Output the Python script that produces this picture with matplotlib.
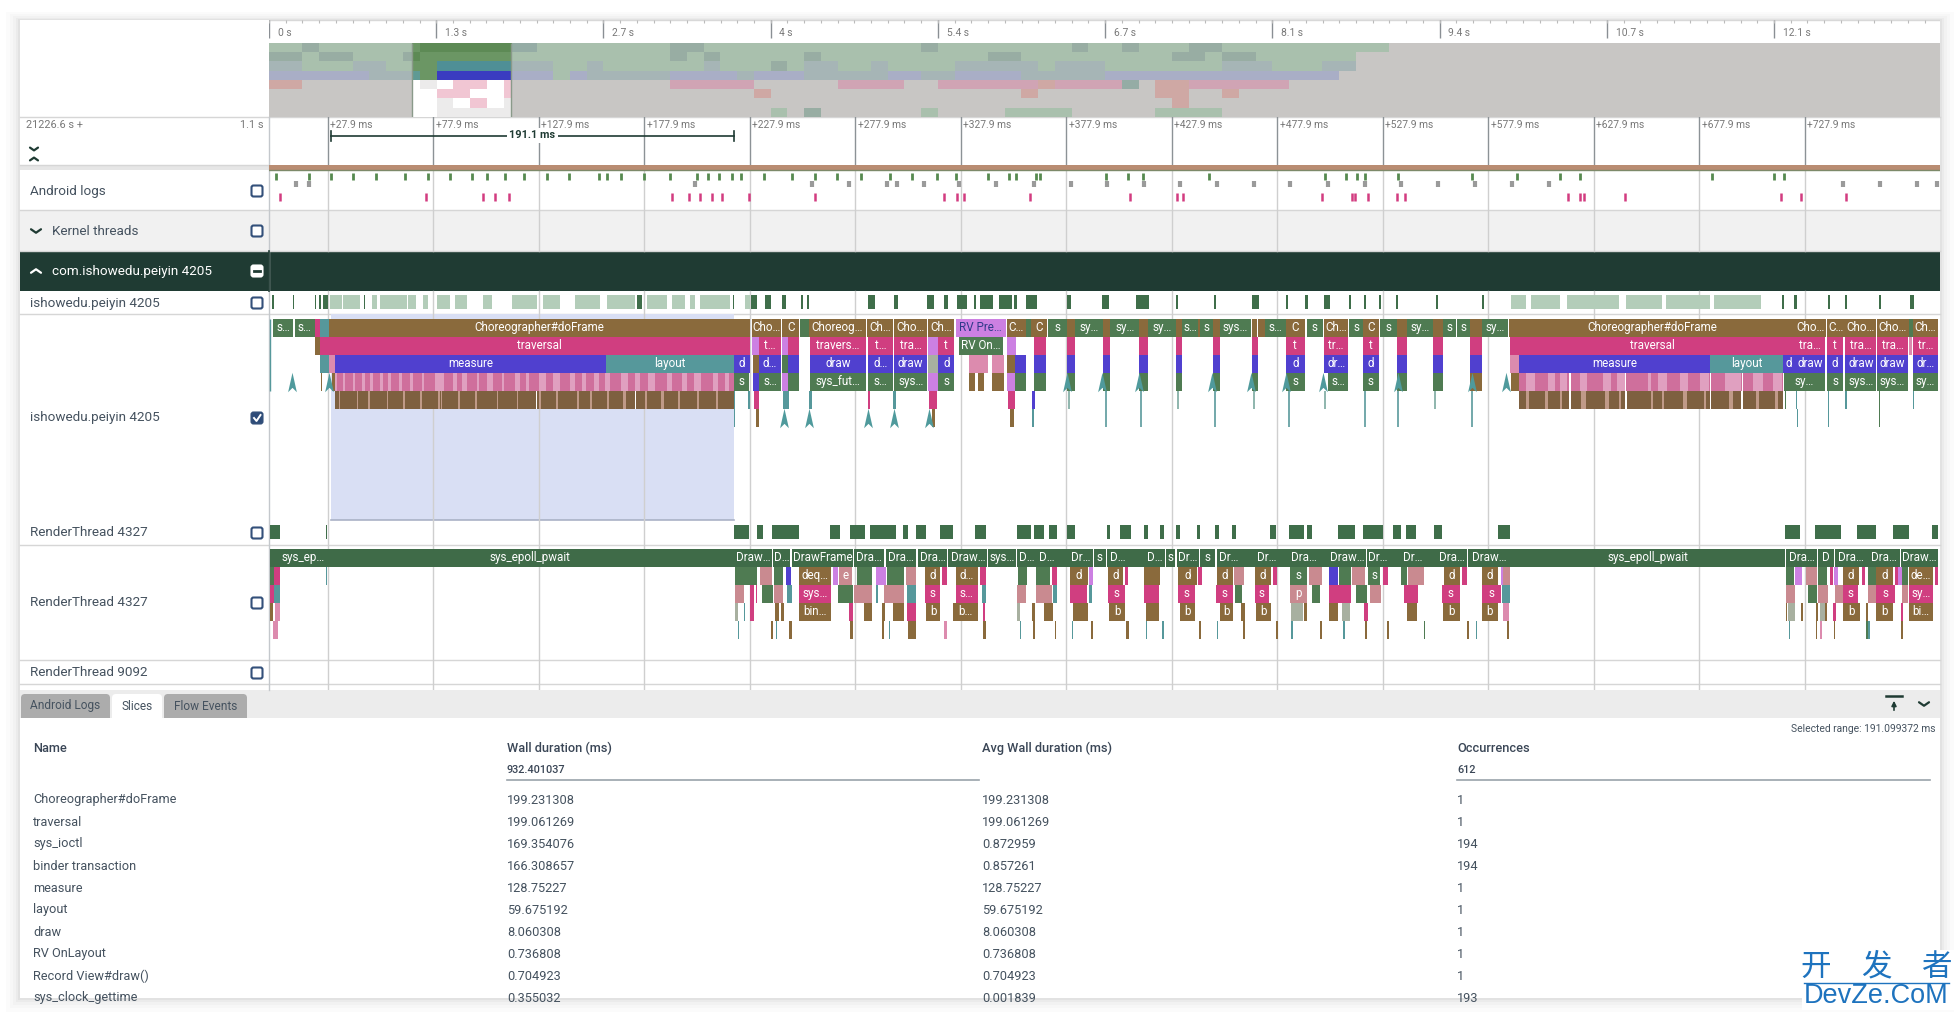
import numpy as np
import matplotlib
matplotlib.use("Agg")
import matplotlib.pyplot as plt
from matplotlib.colors import ListedColormap
from matplotlib.patches import FancyBboxPatch, Rectangle
from matplotlib.path import Path

plt.rcParams['font.family'] = ['Roboto', 'DejaVu Sans']

# ========== data: overview ==========
ov_ticks = [0, 1.34, 2.68, 4.02, 5.36, 6.7, 8.04, 9.38, 10.72, 12.06]
ov_labels = ['0 s', '1.3 s', '2.7 s', '4 s', '5.4 s', '6.7 s', '8.1 s', '9.4 s', '10.7 s', '12.1 s']
ov_window = (1.145, 1.94)

# minimap cells, one string per row
mini_rows = [
    "ggGggggggtttttttggggggggGGgggggggggggggGggggggggGggGgggGGgggggggggg",
    "GGgGGgggGgggggggggggggggGgGgggggGggggggggggGGgggggggggGGgGGgggggg",
    "bbgggbbgggcccccccggbggggggbgggGgbbggbggggbbbbbgbbbgggggggbbbgggbb",
    "vvvvvvbbbgdddddddgvbbbbbvvvvbvvvbbbbbvvbbvvvvbbbbbvvvvvvvvvvvvvv",
    "rr.......x.ww.w.........ppppp.....pppp..pppppprppppt.rrpppppp",
    "..........ww..w..............r...............r.......rr..r",
    "..........x.w.x.......................................r",
    "..........xxxxxx..............g.G......g....gggg.....gggg",
]

# ========== data: time ruler ==========
grid_ms = [27.9, 77.9, 127.9, 177.9, 227.9, 277.9, 327.9, 377.9, 427.9, 477.9,
           527.9, 577.9, 627.9, 677.9, 727.9]
selection_ms = (29.3, 220.4)
selection_label = '191.1 ms'

# ========== data: android logs ==========
log_green = [3.1, 19.1, 29.5, 39.9, 50.5, 64.4, 75.4, 86, 96.4, 103.2, 111.8, 121, 131.7, 142.3,
             156.3, 160.1, 166.9, 177.6, 190, 203, 208.1, 213.1, 219.6, 223.5, 234.5, 248.1, 259,
             269.4, 280.7, 294.3, 304.7, 316.8, 325.7, 340.6, 350.6, 353.9, 363.6, 365.4, 396.5,
             407.2, 414.3, 445.6, 500.7, 510.5, 515.8, 519.6, 535.3, 570.2, 591.3, 611.7, 621.2,
             683.9, 713.2, 718]
log_gray = [12.9, 18.8, 201.9, 257.6, 274.7, 292.8, 297.6, 310.3, 327.2, 344.7, 362.5, 379.9, 397.1,
            414.6, 431.7, 449.5, 466.9, 484.1, 501.9, 519.6, 536.5, 554, 571.7, 589.2, 606.7, 746.1,
            763.5, 781, 790.5]
log_pink = [5.2, 74.2, 101.5, 107.1, 113.6, 191.2, 198.9, 204.5, 209.9, 214.6, 227.6, 259, 320, 326,
            329.2, 360.7, 408, 430.5, 433.2, 499.2, 513.1, 514.9, 521.1, 534.4, 538.3, 615.5, 621.5,
            623.2, 642.5, 716.5, 726, 747.3]

# ========== data: thread state summary rows ==========
state_pale = [(28.9, 34.4), (35.2, 43.1), (48.7, 51), (52.6, 65.2), (66, 69.9), (73.1, 75.5), (79.5, 85.8),
              (88.2, 93.7), (101.3, 105.5), (115, 126.9), (130, 138), (145, 157), (160, 173.5), (179, 188.5),
              (191, 197), (199.5, 201.9), (204.3, 218.5), (225.6, 228), (588.6, 596), (598, 612), (615, 640),
              (643, 660), (662, 683), (685, 707)]
state_dark = [(1.3, 2.4), (11.2, 11.7), (21.8, 22.1), (23.9, 24.6), (25.7, 28.1), (45, 45.7), (174.3, 176.8),
              (220, 220.6), (228.3, 231.1), (235, 238), (243, 245), (252, 253), (255, 256), (284, 287), (296, 298),
              (312, 315), (320, 322), (326, 331), (334, 335), (337, 343), (346, 352), (353, 354.5), (359, 364),
              (378, 380), (395, 398), (411, 417), (430, 431), (448, 449), (466, 469), (482, 483), (491, 492.5),
              (500, 503), (512, 513), (519, 520), (526, 527), (534, 535), (553, 554), (575, 576), (717, 718),
              (723, 724), (739, 740), (747, 748), (763, 764), (778, 779.5)]
rt_state = [(0.5, 5.2), (26.9, 27.5), (220.5, 227.7), (231.1, 234), (238.4, 251.2), (265.7, 270.5), (275.4, 282.6),
            (285, 297.1), (300.3, 302.7), (306.6, 311.6), (318.2, 324.4), (334.6, 339.9), (354.4, 361.2),
            (362.4, 367.2), (369.7, 373.3), (378.1, 381.8), (397, 398.4), (403.5, 408.4), (414.9, 416.8),
            (422.1, 424), (430.1, 432), (439.8, 441.5), (448.2, 450.2), (456.5, 458.4), (474.4, 477.3),
            (483.3, 490.6), (491.8, 494.2), (506.8, 514.7), (518.4, 528), (532.9, 536.5), (538.9, 543.8),
            (552.2, 555.8), (582.4, 588), (718.6, 725.6), (732.7, 745.3), (752.8, 761.9), (769.8, 777.1), (788, 791)]

# ========== data: main thread slices (start ms, end ms, kind, label) ==========
main_l0 = [(1.9, 11.4, 'sys', 's…'), (12.3, 21.7, 'sys', 's…'), (21.7, 24, 'traversal', ''), (24, 28.4, 'layout', ''),
           (28.4, 228.2, 'doframe', 'Choreographer#doFrame'), (228.7, 242.7, 'doframe', 'Cho…'),
           (243.2, 251.4, 'doframe', 'C'), (251.9, 255.8, 'sys', ''), (255.8, 282.9, 'doframe', 'Choreog…'),
           (283.3, 295.9, 'doframe', 'Ch…'), (296.2, 311.9, 'doframe', 'Cho…'), (312.4, 324.9, 'doframe', 'Ch…'),
           (325.4, 349.1, 'purple', 'RV Pre…'), (349.6, 358.8, 'doframe', 'C…'), (358.8, 361.2, 'sys', ''),
           (361.4, 368.9, 'doframe', 'C'), (369.4, 378.1, 'sys', 's'), (378.1, 382, 'doframe', ''),
           (382, 395.5, 'sys', 'sy…'), (395.5, 398.7, 'doframe', ''), (398.7, 412.5, 'sys', 'sy…'),
           (412.5, 416.8, 'doframe', ''), (416.8, 430.1, 'sys', 'sy…'), (430.1, 432.5, 'doframe', ''),
           (432.5, 440.5, 'sys', 's…'), (440.5, 441.5, 'doframe', ''), (441.5, 447.3, 'sys', 's'),
           (447.3, 450.7, 'doframe', ''), (450.7, 465.2, 'sys', 'sys…'), (466.1, 468.1, 'doframe', ''),
           (468.8, 472, 'doframe', ''), (472, 482, 'sys', 's…'), (482.1, 490.8, 'doframe', 'C'),
           (491.8, 499.5, 'sys', 's'), (500, 511.6, 'doframe', 'Ch…'), (512.1, 518.4, 'sys', 's'),
           (518.4, 526.1, 'doframe', 'C'), (526.6, 534.8, 'sys', 's'), (534.8, 539.2, 'doframe', ''),
           (539.2, 551.8, 'sys', 'sy…'), (551.8, 556.6, 'doframe', ''), (556.6, 562.4, 'sys', 's'),
           (562.9, 569.2, 'sys', 's'), (569.2, 575, 'doframe', ''), (575, 587.3, 'sys', 'sy…'),
           (587.8, 723.1, 'doframe', 'Choreographer#doFrame'), (723.5, 738.2, 'doframe', 'Cho…'),
           (738.5, 746.9, 'doframe', 'C…'), (747.2, 761.9, 'doframe', 'Cho…'), (762.2, 777.1, 'doframe', 'Cho…'),
           (777.1, 779, 'sys', ''), (779.3, 791, 'doframe', 'Ch…')]
main_l1 = [(21.7, 24, 'doframe', ''), (24, 28.4, 'traversal', ''), (28.4, 228.2, 'traversal', 'traversal'),
           (228.7, 232.1, 'purple', ''), (232.1, 242.7, 'traversal', 't…'), (243.2, 246.1, 'purple', ''),
           (246.1, 251.4, 'traversal', ''), (256.3, 282.9, 'traversal', 'travers…'), (283.8, 295.9, 'traversal', 't…'),
           (296.4, 311.9, 'traversal', 'tra…'), (312.4, 317.2, 'purple', ''), (317.2, 324.9, 'traversal', 't'),
           (326.9, 348.1, 'sys', 'RV On…'), (349.6, 353.9, 'purple', ''), (362.7, 368.5, 'traversal', ''),
           (378.1, 382, 'traversal', ''), (395.5, 398.7, 'traversal', ''), (412.5, 416.8, 'traversal', ''),
           (430.1, 432.5, 'traversal', ''), (447.3, 450.7, 'traversal', ''), (466.1, 468.6, 'traversal', ''),
           (482.1, 490.8, 'traversal', 't'), (500, 511.6, 'traversal', 'tr…'), (518.4, 526.1, 'traversal', 't'),
           (534.8, 539.2, 'traversal', ''), (551.8, 556.6, 'traversal', ''), (569.2, 575, 'traversal', ''),
           (588.4, 723.1, 'traversal', 'traversal'), (723.5, 737.6, 'traversal', 'tra…'), (738.5, 746.1, 'traversal', 't'),
           (747.2, 761.9, 'traversal', 'tra…'), (762.2, 776.8, 'traversal', 'tra…'), (777.1, 778.7, 'pale', ''),
           (779, 791, 'traversal', 'tr…')]
main_l2 = [(24, 28.4, 'layout', ''), (28.4, 31.3, 'pale', ''), (31.3, 159.7, 'draw', 'measure'),
           (159.7, 220.4, 'layout', 'layout'), (220.4, 228.2, 'draw', 'd'), (229.6, 232.1, 'doframe', ''),
           (232.1, 242.7, 'draw', 'd…'), (243.2, 246.1, 'sys', ''), (246.1, 251.4, 'draw', ''), (256.3, 282.9, 'draw', 'draw'),
           (283.8, 295.9, 'draw', 'd…'), (296.4, 311.9, 'draw', 'draw'), (312.4, 317.2, 'gray', ''), (317.2, 324.9, 'draw', 'd'),
           (331.7, 340.9, 'pale', ''), (342.8, 348.6, 'pale', ''), (349.6, 353.5, 'doframe', ''), (353.5, 358.8, 'draw', ''),
           (362.7, 368.5, 'draw', ''), (378.1, 382, 'draw', ''), (395.5, 398.7, 'draw', ''), (412.5, 416.8, 'draw', ''),
           (430.1, 432.5, 'draw', ''), (447.3, 450.7, 'draw', ''), (466.1, 468.6, 'draw', ''), (482.1, 490.8, 'draw', 'd'),
           (500, 511.6, 'draw', 'dr…'), (518.4, 526.1, 'draw', 'd'), (534.8, 539.2, 'draw', ''), (551.8, 556.6, 'draw', ''),
           (569.2, 575, 'draw', ''), (588.4, 592.5, 'pale', ''), (592.5, 683.2, 'draw', 'measure'),
           (683.2, 717.4, 'layout', 'layout'), (717.4, 723.1, 'draw', 'd'), (723.5, 737.6, 'draw', 'draw'),
           (738.5, 746.1, 'draw', 'd'), (747.2, 761.9, 'draw', 'draw'), (762.2, 776.8, 'draw', 'draw'), (779, 791, 'draw', 'dr…')]
main_l3 = [(24.5, 25.3, 'doframe', ''), (30, 31.3, 'doframe', ''), (31.3, 220.4, 'ioctl', ''), (220.4, 227.6, 'sys', 's'),
           (229.6, 232.1, 'draw', ''), (232.1, 242.7, 'sys', 's…'), (243.2, 246.1, 'purple', ''), (246.1, 251.4, 'sys', ''),
           (256.3, 282.9, 'sys', 'sys_fut…'), (283.8, 295.9, 'sys', 's…'), (296.4, 311.9, 'sys', 'sys…'),
           (312.4, 317.2, 'purple', ''), (317.2, 324.9, 'sys', 's'), (331.7, 334.6, 'doframe', ''), (336, 338.9, 'doframe', ''),
           (342.8, 348.6, 'doframe', ''), (349.6, 353.5, 'purple', ''), (353.5, 358.8, 'sys', ''), (362.7, 368.5, 'sys', ''),
           (378.1, 382, 'sys', ''), (395.5, 398.7, 'sys', ''), (412.5, 416.8, 'sys', ''), (430.1, 432.5, 'sys', ''),
           (447.3, 450.7, 'sys', ''), (466.1, 468.6, 'sys', ''), (482.1, 490.8, 'sys', 's'), (502, 511.6, 'sys', 's…'),
           (518.4, 526.1, 'sys', 's'), (534.8, 539.2, 'sys', ''), (551.8, 556.6, 'sys', ''), (569.2, 575, 'doframe', ''),
           (588.8, 592.5, 'doframe', ''), (592.5, 717.4, 'ioctl', ''), (717.9, 737.6, 'sys', 'sy…'), (738.5, 746.1, 'sys', 's'),
           (747.2, 761.9, 'sys', 'sys…'), (762.2, 776.8, 'sys', 'sys…'), (779, 791, 'sys', 'sy…')]
main_l4 = [(31.3, 220.4, 'binder', ''), (220.5, 221, 'layout', ''), (226.8, 228.2, 'layout', ''), (230.1, 232.1, 'traversal', ''),
           (243.7, 246.6, 'layout', ''), (256, 257.2, 'layout', ''), (283.8, 285, 'traversal', ''), (295.9, 297.1, 'layout', ''),
           (312.8, 316.5, 'traversal', ''), (350.1, 353.5, 'traversal', ''), (361.7, 363.1, 'draw', ''),
           (592.5, 616.1, 'binder', ''), (617, 642.6, 'binder', ''), (643.6, 682.8, 'binder', ''), (683.4, 697.6, 'binder', ''),
           (698.7, 717.4, 'binder', ''), (718.3, 718.8, 'sys', ''), (723.7, 724.3, 'layout', ''), (739, 739.5, 'layout', ''),
           (747.2, 747.7, 'layout', ''), (763, 763.5, 'sys', ''), (779.3, 779.9, 'layout', '')]
main_l5 = [(230.6, 232.1, 'doframe', ''), (314.3, 315.7, 'doframe', ''), (351, 353, 'doframe', ''), (361.7, 362.4, 'layout', ''),
           (220.5, 221, 'layout', ''), (724, 724.5, 'layout', ''), (739, 739.5, 'layout', ''), (763, 763.5, 'sys', '')]

# hand read stripes inside the sys_ioctl / binder blocks
ioctl_pale = [(31.3, 32.1), (35, 36.1), (40, 40.8), (44, 45.5), (47.9, 49.5), (52.6, 54.2), (56.6, 57.7), (61.8, 62.9),
              (66.9, 68.1), (72.4, 73.5), (78.7, 83), (87.4, 89), (91.4, 93.7), (98.5, 99.7), (103.2, 106.4),
              (110.3, 111.4), (116.6, 119), (121.8, 123), (127.8, 131.2), (134.7, 138.1), (142.7, 145), (148.5, 150.1),
              (154.2, 156.5), (159.3, 161.6), (166.9, 170.3), (173.7, 176), (179.5, 182.9), (188.7, 191), (195.6, 197.9),
              (201.3, 204.8), (210.5, 212.8), (216.2, 218.1), (596, 600), (606.3, 609.5), (611.8, 615.3), (621.3, 624.5),
              (632.4, 636.3), (638.7, 642.6), (653.7, 654.8), (658.4, 662.4), (668.7, 672.7), (678.2, 682.6), (690, 697.9),
              (703.5, 708.2), (713, 716.9)]
ioctl_gap = [(616.2, 616.9), (642.9, 643.4), (683, 683.4), (698.2, 698.7)]
binder_pale = [(33, 33.6), (41.6, 42.3), (47.1, 47.8), (55.8, 56.5), (63.7, 64.4), (71.6, 72.3), (80.3, 80.9), (81.4, 82),
               (89.8, 90.5), (97.7, 98.4), (107.9, 108.6), (117.4, 118.1), (128, 129), (136, 137), (146, 147), (152, 153),
               (160, 161), (168, 169), (178, 179), (186, 187), (194, 195), (203, 204), (212, 213), (596, 597), (605, 606),
               (612, 613), (622, 624), (633, 635), (640, 641), (655, 656), (660, 661), (670, 672), (680, 681), (692, 694),
               (705, 706), (714, 715)]
binder_gap = [(173.6, 174.1), (126.4, 126.9)]

# flow arrows
arrows_l3 = [11.1, 28.3, 378.1, 395, 412.5, 447, 465.2, 482.1, 499.5, 535.3, 570.4, 586.5]
arrows_l5 = [244.3, 255.8, 284, 296.2, 312.7]
stems_long = [396.7, 413.2, 448.3, 483.3, 519.6, 535.3, 570.4]
stems_short = [379.3, 430.6, 466.9, 500.7, 552.7]

# ========== data: render thread slices ==========
rt_l0 = [(0.5, 4.7, 'rt', ''), (4.7, 27.5, 'rt', 'sys_ep…'), (27.5, 220, 'rt', 'sys_epoll_pwait'), (220, 228.4, 'rt', ''),
         (221, 238.4, 'rt', 'Draw…'), (238.8, 247, 'rt', 'D…'), (248, 277, 'rt', 'DrawFrame'), (277.5, 291.5, 'rt', 'Dra…'),
         (292.5, 306.5, 'rt', 'Dra…'), (307.5, 321.5, 'rt', 'Dra…'), (322, 340.4, 'rt', 'Draw…'), (340.9, 354, 'rt', 'sys…'),
         (354.4, 363.6, 'rt', 'D…'), (363.6, 373.3, 'rt', 'D…'), (373.3, 379, 'rt', ''), (379.1, 390.7, 'rt', 'Dr…'),
         (391.2, 396.5, 'rt', 's'), (397, 407.1, 'rt', 'D…'), (407.1, 414.9, 'rt', ''), (414.9, 424.5, 'rt', 'D…'),
         (425, 429.4, 'rt', 's'), (430.3, 441, 'rt', 'Dr…'), (441.5, 448.2, 'rt', 's'), (449.2, 460.3, 'rt', 'Dr…'),
         (460.3, 467.1, 'rt', ''), (467.1, 478.2, 'rt', 'Dr…'), (478.2, 484, 'rt', ''), (484, 496.6, 'rt', 'Dra…'),
         (496.6, 502, 'rt', ''), (502, 519.8, 'rt', 'Draw…'), (520.3, 531, 'rt', 'Dr…'), (531, 535.8, 'rt', ''),
         (535.8, 548, 'rt', 'Dr…'), (548, 553.2, 'rt', ''), (553.2, 567.7, 'rt', 'Dra…'), (568.1, 588.2, 'rt', 'Draw…'),
         (588.4, 718.6, 'rt', 'sys_epoll_pwait'), (718.9, 733.8, 'rt', 'Dra…'), (734.1, 741.7, 'rt', 'D'),
         (742, 757.2, 'rt', 'Dra…'), (757.5, 773, 'rt', 'Dra…'), (773.3, 791, 'rt', 'Draw…')]
rt_l1 = [(0.5, 2.4, 'sys', ''), (2.4, 5.2, 'traversal', ''), (26.9, 27.4, 'layout', ''), (221, 231.1, 'sys', ''), (232.6, 238.4, 'pale2', ''),
         (239.3, 243.7, 'sys', ''), (245.1, 247.5, 'draw', ''), (251.4, 266.4, 'doframe', 'deq…'), (267.4, 269.8, 'purple', ''),
         (270.3, 276.1, 'pale2', 'e'), (278.5, 285.8, 'sys', ''), (287.7, 292.3, 'purple', ''), (293, 301.2, 'sys', ''),
         (302, 306.8, 'pale2', ''), (310.9, 318.2, 'doframe', 'd'), (319, 321.5, 'traversal', ''), (325.4, 336, 'doframe', 'd…'),
         (337, 340, 'traversal', ''), (354.9, 359.5, 'sys', ''), (363.6, 370.4, 'sys', ''), (370.9, 373.3, 'traversal', ''),
         (379.6, 388.3, 'doframe', 'd'), (388.8, 390.7, 'purple', ''), (397.5, 404.7, 'doframe', 'd'), (405.7, 407.1, 'traversal', ''),
         (410.7, 411, 'layout', ''), (414.9, 422.1, 'doframe', ''), (430.8, 439.8, 'doframe', 'd'), (440.5, 442.2, 'traversal', ''),
         (449.2, 456.9, 'doframe', 'd'), (457.3, 462.3, 'pale2', ''), (467.1, 474.8, 'doframe', 'd'), (476, 477.7, 'traversal', ''),
         (484, 491.8, 'sys', 's'), (493, 499, 'pale2', ''), (502.4, 506.8, 'draw', ''), (507.3, 513, 'sys', ''), (513.5, 519.6, 'pale2', ''),
         (520.8, 526.8, 'sys', 's'), (528, 530.4, 'traversal', ''), (536.5, 539.6, 'sys', ''), (540, 547.4, 'pale2', ''),
         (557, 564.3, 'doframe', 'd'), (565.5, 568, 'traversal', ''), (574.7, 582.6, 'doframe', 'd'), (583.7, 585, 'purple', ''),
         (585, 588, 'pale2', ''), (718.9, 722.7, 'sys', ''), (723.2, 726.4, 'purple', ''), (728.4, 733.8, 'pale2', ''),
         (734.4, 738.5, 'sys', ''), (739.7, 741.4, 'traversal', ''), (741.9, 743.5, 'purple', ''), (745.8, 753.7, 'doframe', 'd'),
         (755, 756.3, 'traversal', ''), (758, 761.9, 'sys', ''), (761.9, 769.8, 'doframe', 'd'), (770.5, 772, 'traversal', ''),
         (772.2, 773.9, 'purple', ''), (774.2, 777, 'sys', ''), (777.2, 788.8, 'doframe', 'de…'), (789.5, 791, 'traversal', '')]
rt_l2 = [(0.5, 2.4, 'traversal', ''), (2.6, 5.2, 'layout', ''), (221, 225.3, 'pale2', ''), (228.2, 229.7, 'traversal', ''), (230.6, 231.1, 'traversal', ''),
         (233.5, 238.9, 'sys', ''), (239.3, 243.7, 'pale2', ''), (245.6, 248, 'layout', ''), (251.4, 266.4, 'traversal', 'sys…'),
         (269.8, 276.6, 'sys', ''), (277.5, 285.8, 'pale2', ''), (287.5, 288.7, 'layout', ''), (291.6, 300.8, 'pale2', ''),
         (302.2, 306.8, 'layout', ''), (311, 318.2, 'traversal', 's'), (325.4, 336, 'traversal', 's…'), (338, 340, 'layout', ''),
         (354.4, 358.8, 'pale2', ''), (363.6, 370.9, 'pale2', ''), (371.4, 373.3, 'layout', ''), (379.6, 387.8, 'traversal', ''),
         (388.8, 390.2, 'layout', ''), (397.5, 405.9, 'traversal', 's'), (414.9, 421.6, 'traversal', ''), (430.8, 439, 'traversal', 's'),
         (448.7, 456.9, 'traversal', 's'), (457.9, 461.3, 'sys', ''), (467.1, 473.8, 'traversal', 's'), (484, 491.8, 'pale2', 'p'),
         (494.2, 498.2, 'sys', ''), (502.4, 513, 'traversal', ''), (515, 520.3, 'sys', ''), (521.8, 527, 'pale2', ''),
         (537.8, 544.6, 'traversal', ''), (556.1, 564.3, 'traversal', 's'), (575, 583.7, 'traversal', 's'),
         (584.5, 588, 'layout', ''), (718.9, 723.2, 'pale2', ''), (729.5, 733.5, 'sys', ''), (734, 739, 'pale2', ''), (742.2, 746.1, 'pale2', ''),
         (746.1, 753.3, 'traversal', 's'), (758, 761.9, 'pale2', ''), (761.9, 770.6, 'traversal', 's'), (773.8, 776.9, 'pale2', ''),
         (777.2, 788.8, 'traversal', 'sy…')]
rt_l3 = [(0.5, 1.8, 'doframe', ''), (3, 5.2, 'pale', ''), (221, 222.4, 'gray', ''), (225, 225.4, 'layout', ''), (228.2, 229.7, 'traversal', ''),
         (239.8, 241.7, 'doframe', ''), (242.7, 244.2, 'doframe', ''), (251.4, 266.4, 'doframe', 'bin…'), (275.1, 277, 'traversal', ''),
         (281.9, 285.8, 'doframe', ''), (290.6, 292, 'doframe', ''), (295.9, 300.8, 'doframe', ''), (302.2, 306.8, 'traversal', ''),
         (311.4, 318.2, 'doframe', 'b'), (324.4, 336, 'doframe', 'b…'), (338.5, 339.4, 'traversal', ''), (354.4, 355.9, 'gray', ''),
         (361.7, 363.1, 'doframe', ''), (367.5, 371.4, 'doframe', ''), (381, 388.3, 'doframe', ''), (398, 405.9, 'doframe', 'b'),
         (415.9, 421.6, 'doframe', ''), (431.8, 439, 'doframe', 'b'), (450.7, 456.9, 'doframe', 'b'), (460.9, 462.8, 'doframe', ''),
         (467.6, 474.8, 'doframe', 'b'), (484.5, 489.9, 'gray', ''), (490.6, 492, 'doframe', ''), (502.4, 506.8, 'doframe', ''),
         (508.8, 512.4, 'gray', ''), (519, 520.8, 'traversal', ''), (539.6, 544, 'doframe', ''), (556.6, 564.3, 'doframe', 'b'),
         (574.7, 582.6, 'doframe', 'b'), (585, 587.5, 'pale', ''), (718.9, 719.5, 'doframe', ''), (720, 723.2, 'gray', ''), (725.9, 726.9, 'doframe', ''),
         (733, 734.1, 'doframe', ''), (735, 737.4, 'gray', ''), (737.6, 738.5, 'doframe', ''), (741.4, 742.7, 'traversal', ''),
         (746.1, 753.9, 'doframe', 'b'), (756.9, 758, 'doframe', ''), (761.9, 769.8, 'doframe', 'b'), (773.3, 774.3, 'traversal', ''),
         (777.2, 788.8, 'doframe', 'bi…')]
rt_l4 = [(1.8, 4.2, 'pale', ''), (222.3, 222.8, 'layout', ''), (237.9, 239, 'doframe', ''), (240.2, 240.6, 'layout', ''), (246.6, 247.8, 'doframe', ''),
         (275.4, 276.6, 'doframe', ''), (290.6, 291.5, 'doframe', ''), (294, 294.4, 'layout', ''), (302.7, 306.5, 'doframe', ''), (320, 321.5, 'pale', ''),
         (338.6, 339.8, 'doframe', ''), (355.9, 356.4, 'layout', ''), (362.2, 363.2, 'doframe', ''), (372.5, 373.2, 'doframe', ''),
         (380.5, 381, 'layout', ''), (389.7, 390.5, 'doframe', ''), (406.4, 407.4, 'doframe', ''), (415.7, 416.2, 'layout', ''),
         (423.4, 424, 'layout', ''), (440.9, 441.9, 'doframe', ''), (449.4, 449.9, 'layout', ''), (461.8, 462.8, 'doframe', ''),
         (477.2, 478, 'doframe', ''), (484.6, 485.2, 'layout', ''), (498, 499, 'doframe', ''), (509.2, 510, 'layout', ''),
         (519.6, 520.4, 'doframe', ''), (530, 530.8, 'doframe', ''), (547.4, 548, 'sys', ''), (568, 568.9, 'doframe', ''),
         (572, 572.6, 'layout', ''), (587, 587.7, 'doframe', ''), (720.5, 721, 'layout', ''), (733.2, 733.8, 'doframe', ''), (735, 736.2, 'pale', ''),
         (741.6, 742.4, 'doframe', ''), (756.9, 757.9, 'sys', ''), (758, 759, 'layout', ''), (773.3, 774.3, 'doframe', '')]

# ========== data: bottom table ==========
table_head = ['Name', 'Wall duration (ms)', 'Avg Wall duration (ms)', 'Occurrences']
table_total = ['', '932.401037', '', '612']
names = ['Choreographer#doFrame', 'traversal', 'sys_ioctl', 'binder transaction', 'measure', 'layout', 'draw',
         'RV OnLayout', 'Record View#draw()', 'sys_clock_gettime']
wall = ['199.231308', '199.061269', '169.354076', '166.308657', '128.75227', '59.675192', '8.060308',
        '0.736808', '0.704923', '0.355032']
avg = ['199.231308', '199.061269', '0.872959', '0.857261', '128.75227', '59.675192', '8.060308',
       '0.736808', '0.704923', '0.001839']
occur = ['1', '1', '194', '194', '1', '1', '1', '1', '1', '193']

# ========== colours ==========
colors = {'doframe': '#8a6a3c', 'traversal': '#d03e80', 'draw': '#5040cf', 'layout': '#56989b', 'sys': '#4f7b52',
          'rt': '#3f6b48', 'purple': '#cc80e2', 'pale': '#dc8bae', 'pale2': '#c98a90', 'gray': '#a8b0a0',
          'ioctl': '#cf6f9c', 'binder': '#7e6040'}
text_dark = {'purple'}
TEXT = '#45525f'
DARK = '#1f3b33'

# ========== figure, one axes in pixels for the page and others on time scales ==========
W, H = 1958, 1018
fig = plt.figure(figsize=(W / 100, H / 100), dpi=100)
page = fig.add_axes([0, 0, 1, 1])
page.set_xlim(0, W)
page.set_ylim(H, 0)
page.axis('off')


def px_axes(x0, y0, x1, y1):
    a = fig.add_axes([x0 / W, 1 - y1 / H, (x1 - x0) / W, (y1 - y0) / H])
    a.axis('off')
    a.patch.set_alpha(0)
    return a


# shadow round the panel
for grow, tone in zip([14, 10, 7, 4, 2], ['#fbfbfb', '#f7f7f7', '#f2f2f2', '#ebebeb', '#e2e2e2']):
    page.add_patch(Rectangle((20 - grow, 20 - grow * 0.6), 1920 + 2 * grow, 978 + grow * 1.6, color=tone, lw=0))
page.add_patch(Rectangle((20, 20), 1920, 978, color='white', lw=0))

# rows
page.add_patch(Rectangle((20, 210), 1920, 41, color='#f1f1f1', lw=0))
page.add_patch(Rectangle((20, 251), 1920, 40, color=DARK, lw=0))
page.add_patch(Rectangle((20, 690), 1920, 28, color='#ececec', lw=0))
for y in [117, 210, 251, 314, 545, 660, 684]:
    page.plot([20, 1940], [y, y], color='#d6d6d6', lw=1, zorder=1)
page.plot([20, 269], [165, 165], color='#d6d6d6', lw=1)
page.add_patch(Rectangle((20, 165), 1920, 5, color='#e6e6e6', lw=0))
page.plot([269, 269], [117, 690], color='#c4c8cc', lw=1, zorder=1)
page.plot([269, 269], [251, 291], color=DARK, lw=1.2, zorder=2)

# row labels and check boxes
row_labels = [('Android logs', 30, 191), ('Kernel threads', 52, 231), ('ishowedu.peiyin 4205', 30, 303),
              ('ishowedu.peiyin 4205', 30, 418), ('RenderThread 4327', 30, 533), ('RenderThread 4327', 30, 603),
              ('RenderThread 9092', 30, 673)]
for label, x, y in row_labels:
    page.text(x, y, label, fontsize=9.7, color=TEXT, va='center', ha='left')
page.text(52, 271, 'com.ishowedu.peiyin 4205', fontsize=9.7, color='white', va='center', ha='left')

for y, state in [(191, 0), (231, 0), (271, 2), (303, 0), (418, 1), (533, 0), (603, 0), (673, 0)]:
    face = {0: 'white', 1: '#2c4a78', 2: 'white'}[state]
    page.add_patch(FancyBboxPatch((251.5, y - 5.5), 11, 11, boxstyle='round,pad=0,rounding_size=2',
                                  fc=face, ec='#33507a' if state < 2 else 'white', lw=1.5, zorder=3))
    if state == 1:
        page.plot([254, 256.5, 260.5], [y, y + 3, y - 3], color='white', lw=1.4, zorder=4)
    if state == 2:
        page.plot([254, 260], [y, y], color=DARK, lw=2, zorder=4)


def chevron(x, y, up, col=DARK, size=5):
    d = -size * 0.7 if up else size * 0.7
    page.plot([x - size, x, x + size], [y - d / 2, y + d / 2, y - d / 2], color=col, lw=1.6, zorder=4,
              solid_capstyle='round')


chevron(36, 231, False)
chevron(36, 271, True, 'white')
chevron(34, 149, False, size=4)
chevron(34, 159, True, size=4)
chevron(1924, 704, False, size=5)
page.plot([1886, 1902], [696, 696], color=DARK, lw=1.8)
page.annotate('', xy=(1894, 698), xytext=(1894, 713),
              arrowprops=dict(arrowstyle='-|>', color=DARK, lw=1.2, mutation_scale=7))
page.text(26, 125, '21226.6 s +', fontsize=7.8, color='#777777', va='center')
page.text(264, 125, '1.1 s', fontsize=7.8, color='#777777', va='center', ha='right')

# ========== overview ==========
ov = px_axes(269, 20, 1940, 117)
ov.set_xlim(0, 13.39)
ov.set_ylim(117, 20)
codes = '.gGbvcdwxrptG'
dim = ['#c8c6c4', '#a9c0ad', '#98ada3', '#a6b5b6', '#a9aec6', '#a6b5b6', '#a9aec6', '#c8c6c4', '#c8c6c4', '#cfa8a4',
       '#d0a4b4', '#95aca5', '#98ada3']
bright = ['#ffffff', '#6b9664', '#5d8a55', '#5f9a94', '#4648bd', '#4f8f96', '#3a3cc0', '#f1c6d3', '#ecebeb', '#f1c6d3',
          '#f1c6d3', '#5d8a55', '#5d8a55']
mini = np.zeros((8, 100), dtype=int)
for r, line in enumerate(mini_rows):
    for c, ch in enumerate(line):
        mini[r, c] = codes.index(ch)
# window rows are filled in full colour, the rest of the strip is dimmed
ov.imshow(mini, cmap=ListedColormap(dim), vmin=0, vmax=len(dim) - 1, extent=(0, 13.4, 117, 43), aspect='auto',
          interpolation='nearest', zorder=1)
im = ov.imshow(mini, cmap=ListedColormap(bright), vmin=0, vmax=len(bright) - 1, extent=(0, 13.4, 117, 43),
               aspect='auto', interpolation='nearest', zorder=2)
im.set_clip_path(Rectangle((ov_window[0], 43), ov_window[1] - ov_window[0], 74, transform=ov.transData))
ov.set_xlim(0, 13.39)
ov.set_ylim(117, 20)
ov.vlines(ov_window, 43, 117, color='#8a9a8a', lw=1, zorder=3)
ov.vlines(ov_ticks, 20, 38, color='#8a8f94', lw=1, zorder=3)
ov.vlines(np.arange(0, 13.39, 0.134), 20, 23, color='#bbbbbb', lw=0.8, zorder=3)
ov.plot([0, 13.39], [20, 20], color='#d8d8d8', lw=1, zorder=2)
for t, lab in zip(ov_ticks, ov_labels):
    ov.text(t + 0.07, 33, lab, fontsize=7.4, color='#777777', va='center', ha='left')

# ========== time axes ==========
ax = px_axes(269, 117, 1940, 690)
ax.set_xlim(0, 792)
ax.set_ylim(690, 117)

# selection shade
ax.add_patch(Rectangle((selection_ms[0], 314), selection_ms[1] - selection_ms[0], 206, color='#d9dff4', lw=0, zorder=1))
ax.plot(selection_ms, [520, 520], color='#aab2c6', lw=1.2, zorder=2)

# grid, skipping the dark process header
for g in grid_ms:
    ax.plot([g, g], [117, 165], color='#8c9296', lw=1, zorder=2)
    ax.plot([g, g], [170, 251], color='#cfcfcf', lw=1, zorder=2)
    ax.plot([g, g], [291, 690], color='#cfcfcf', lw=1, zorder=2)
    ax.text(g + 1.2, 125, f'+{g} ms', fontsize=7.4, color='#777777', va='center', ha='left', zorder=5)

# measure span
ax.plot(selection_ms, [135.5, 135.5], color=DARK, lw=1.2, zorder=4)
for s in selection_ms:
    ax.plot([s, s], [130.5, 140.5], color=DARK, lw=1.2, zorder=4)
ax.text(sum(selection_ms) / 2, 135.5, selection_label, fontsize=7.8, color=DARK, weight='bold', ha='center', va='center',
        zorder=5, bbox=dict(fc='white', ec='none', pad=1.5))

# brown strip under the ruler
ax.add_patch(Rectangle((0, 165), 792, 5, color='#b98c72', lw=0, zorder=3))
ax.plot([0, 792], [170, 170], color='#7d8a6a', lw=1, zorder=3)

# android logs
ax.vlines(log_green, 173, 180, color='#568a4f', lw=2, zorder=4)
ax.vlines(log_gray, 181, 187, color='#9a9a9a', lw=3, zorder=4)
ax.vlines(log_pink, 193, 201, color='#d23c80', lw=1.8, zorder=4)


def draw_state(spans, top, bottom, col, alpha=1.0):
    for a, b in spans:
        ax.add_patch(Rectangle((a, top), b - a, bottom - top, color=col, alpha=alpha, lw=0, zorder=3))


draw_state(state_pale, 295, 309, '#b3cdb9')
draw_state(state_dark, 295, 309, '#3f6e4a')
draw_state(rt_state, 525, 539, '#3f6e4a')


def draw_level(slices, top, h=18.0):
    for a, b, kind, label in slices:
        ax.add_patch(Rectangle((a, top), b - a, h, color=colors[kind], lw=0, zorder=4))
        if label:
            tc = '#303a8a' if kind in text_dark else 'white'
            ax.text((a + b) / 2, top + h / 2 - 0.3, label, fontsize=8.4, color=tc, ha='center', va='center',
                    zorder=6, clip_on=True)


for lvl, level in enumerate([main_l0, main_l1, main_l2, main_l3, main_l4, main_l5]):
    draw_level(level, 319 + lvl * 18)
for lvl, level in enumerate([rt_l0, rt_l1, rt_l2, rt_l3, rt_l4]):
    draw_level(level, 549 + lvl * 18)

# stripes in the big blocks
for a, b in ioctl_pale:
    ax.add_patch(Rectangle((a, 373), b - a, 18, color='#e0a0c0', lw=0, zorder=5))
for a, b in ioctl_gap:
    ax.add_patch(Rectangle((a, 373), b - a, 18, color='white', lw=0, zorder=5))
for a, b in binder_pale:
    ax.add_patch(Rectangle((a, 391), b - a, 18, color='#c09a88', lw=0, zorder=5))
for a, b in binder_gap:
    ax.add_patch(Rectangle((a, 391), b - a, 18, color='white', lw=0, zorder=5))

# flow arrows and their stems
arrow = Path([(0, 1), (0.45, -1), (0, -0.55), (-0.45, -1), (0, 1)],
             [Path.MOVETO, Path.LINETO, Path.LINETO, Path.LINETO, Path.CLOSEPOLY])
ax.vlines(stems_long, 391, 427, color='#5a9a9c', lw=1.2, zorder=4)
ax.vlines(stems_short, 391, 409, color='#7ca9a0', lw=1.2, zorder=4)
ax.plot(arrows_l3, [382] * len(arrows_l3), ls='none', marker=arrow, ms=14, color='#4f9a9c', mec='none', zorder=5)
ax.plot(arrows_l5, [418] * len(arrows_l5), ls='none', marker=arrow, ms=14, color='#4f9a9c', mec='none', zorder=5)
ax.vlines([0.6], 319, 391, color='#56989b', lw=1, zorder=4)

# ========== tabs ==========
for x0, x1, label, active in [(21, 110, 'Android Logs', False), (112, 162, 'Slices', True), (164, 247, 'Flow Events', False)]:
    page.add_patch(FancyBboxPatch((x0, 694), x1 - x0, 30, boxstyle='round,pad=0,rounding_size=4',
                                  fc='white' if active else '#acacac', ec='none', zorder=2))
    page.text((x0 + x1) / 2, 706, label, fontsize=8.6, color=TEXT, ha='center', va='center', zorder=4)
page.add_patch(Rectangle((20, 718), 1920, 280, color='white', lw=0, zorder=3))
page.text(1936, 729, 'Selected range: 191.099372 ms', fontsize=7.4, color=TEXT, ha='right', va='center', zorder=4)

# ========== table ==========
cols = [33, 507, 982, 1457]
for x, head, total in zip(cols, table_head, table_total):
    page.text(x, 748, head, fontsize=9.2, color='#3a4656', weight='medium', va='center', zorder=4)
    if total:
        page.text(x, 770, total, fontsize=7.8, color='#3a4656', weight='medium', va='center', zorder=4)
for x0, x1 in [(507, 979), (1457, 1930)]:
    page.plot([x0, x1], [780, 780], color='#9aa3aa', lw=1.2, zorder=4)
for i in range(len(names)):
    y = 800 + i * 22
    for x, col in zip(cols, [names, wall, avg, occur]):
        t = page.text(x, y, col[i], fontsize=9.2, color=TEXT, va='center', zorder=4)
        t.set_clip_path(Rectangle((20, 718), 1920, 280, transform=page.transData))

# ========== watermark ==========
page.add_patch(Rectangle((1802, 950), 156, 60, color='white', lw=0, zorder=7))
for x, ch in zip([1816, 1876, 1936], '开发者'):
    page.text(x, 967, ch, fontsize=22, color='#1e73be', ha='center', va='center', zorder=8,
              family=['Noto Sans CJK SC', 'DejaVu Sans'])
page.plot([1804, 1949], [983, 983], color='#1e73be', lw=1, zorder=8)
page.text(1876, 996, 'DevZe.CoM', fontsize=19.5, color='#1e73be', ha='center', va='center', zorder=8,
          family=['Liberation Sans', 'DejaVu Sans'])

fig.savefig('out.png', dpi=100)
